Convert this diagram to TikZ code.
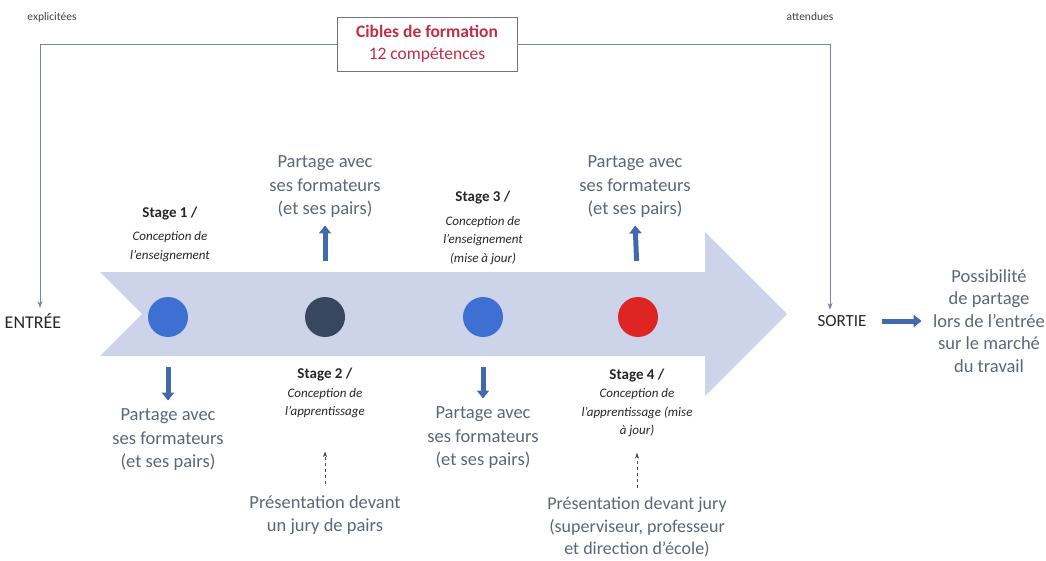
\documentclass[tikz,border=0pt]{standalone}
\usepackage{fontspec}
\setmainfont{Carlito}
\usepackage{xcolor}
\usetikzlibrary{arrows.meta}

\definecolor{bandcol}{HTML}{CDD3E8}
\definecolor{sharecol}{HTML}{5C6676}
\definecolor{arrowblue}{HTML}{4069B0}
\definecolor{dotblue}{HTML}{3E6FD2}
\definecolor{dotdark}{HTML}{39475E}
\definecolor{dotred}{HTML}{DF2424}
\definecolor{ciblered}{HTML}{C22D43}
\definecolor{linecol}{HTML}{7A8798}

\newcommand{\stg}[1]{{\fontsize{15}{19}\selectfont\textbf{#1}}}

\begin{document}
\begin{tikzpicture}[x=1pt,y=-1pt,
  share/.style={align=center,text=sharecol,font=\fontsize{18.5}{23.5}\selectfont},
  stagetxt/.style={align=center,text=black!85,font=\fontsize{13}{18.5}\selectfont},
  dot/.style={circle,minimum size=40pt,inner sep=0pt},
  blockarrow/.style={line width=5pt,arrowblue,-{Triangle[width=12pt,length=8pt]}},
  thinarrow/.style={linecol,line width=0.9pt,-{Stealth[length=7pt,width=5pt]}},
  jurylink/.style={black!70,dashed,line width=0.7pt,-{Stealth[length=6pt,width=4pt]}}]
\useasboundingbox (0,0) rectangle (1046,561);

% Band arrow
\def\mid{314}
\fill[bandcol] (100,\mid-42) -- (705,\mid-42) -- (705,\mid-82) -- (787,\mid)
  -- (705,\mid+82) -- (705,\mid+42) -- (100,\mid+42) -- (142,\mid) -- cycle;

% Stages on the band
\node[dot,fill=dotblue] (c1) at (168,317) {};
\node[dot,fill=dotdark] (c2) at (325,317) {};
\node[dot,fill=dotblue] (c3) at (483,317) {};
\node[dot,fill=dotred]  (c4) at (638,317) {};

% Entry and exit
\node[font=\fontsize{18}{21}\selectfont,text=black!85] (entree) at (33,321) {ENTRÉE};
\node[font=\fontsize{17}{21}\selectfont,text=black!85] (sortie) at (842,321) {SORTIE};

% Targets box
\node[draw=black!55,line width=0.8pt,text=ciblered,align=center,minimum width=180pt,
  minimum height=54pt,font=\fontsize{17.5}{22}\selectfont] (cible) at (427,44)
  {\textbf{Cibles de formation}\\12 compétences};
\node[font=\fontsize{11.5}{13}\selectfont,text=black!75] (expl) at (52,17) {explicitées};
\node[font=\fontsize{11.5}{13}\selectfont,text=black!75] (att) at (810,17) {attendues};
\draw[thinarrow,shorten >=2pt] (cible.west) -| ([xshift=7pt]entree.north);
\draw[thinarrow,shorten >=2pt] (cible.east) -| ([xshift=-12pt]sortie.north);

% Stage texts
\node[stagetxt] (s1) at (170,234) {\stg{Stage 1 /}\\[5pt]\textit{Conception de}\\\textit{l’enseignement}};
\node[stagetxt] (s2) at (325,393) {\stg{Stage 2 /}\\\textit{Conception de}\\\textit{l’apprentissage}};
\node[stagetxt] (s3) at (483,228) {\stg{Stage 3 /}\\[5pt]\textit{Conception de}\\\textit{l’enseignement}\\\textit{(mise à jour)}};
\node[stagetxt] (s4) at (637,403) {\stg{Stage 4 /}\\\textit{Conception de}\\\textit{l’apprentissage (mise}\\\textit{à jour)}};

% Sharing
\node[share] (p2) at (325,187) {Partage avec\\ses formateurs\\(et ses pairs)};
\node[share] (p4) at (635,187) {Partage avec\\ses formateurs\\(et ses pairs)};
\node[share] (p1) at (168,440) {Partage avec\\ses formateurs\\(et ses pairs)};
\node[share] (p3) at (483,438) {Partage avec\\ses formateurs\\(et ses pairs)};
\draw[blockarrow,shorten <=36pt,shorten >=4pt] (c2.north) -- (p2.south);
\draw[blockarrow,shorten <=36pt,shorten >=4pt] (c4.north) -- (p4.south);
\draw[blockarrow,shorten <=30pt,shorten >=5pt] (c1.south) -- (p1.north);
\draw[blockarrow,shorten <=30pt,shorten >=5pt] (c3.south) -- (p3.north);

% Jury presentations
\node[share] (j2) at (325,515) {Présentation devant\\un jury de pairs};
\node[share,font=\fontsize{18}{22.5}\selectfont] (j4) at (637,527) {Présentation devant jury\\(superviseur, professeur\\et direction d’école)};
\draw[jurylink,shorten <=8pt,shorten >=30pt] (j2.north) -- (s2.south);
\draw[jurylink,shorten <=5pt,shorten >=12pt] (j4.north) -- (s4.south);

% After exit
\node[share,font=\fontsize{18.5}{22.5}\selectfont] (poss) at (989,321) {Possibilité\\de partage\\lors de l’entrée\\sur le marché\\du travail};
\draw[blockarrow,shorten <=12pt,shorten >=8pt] (sortie.east) -- (poss.west);

\end{tikzpicture}
\end{document}
